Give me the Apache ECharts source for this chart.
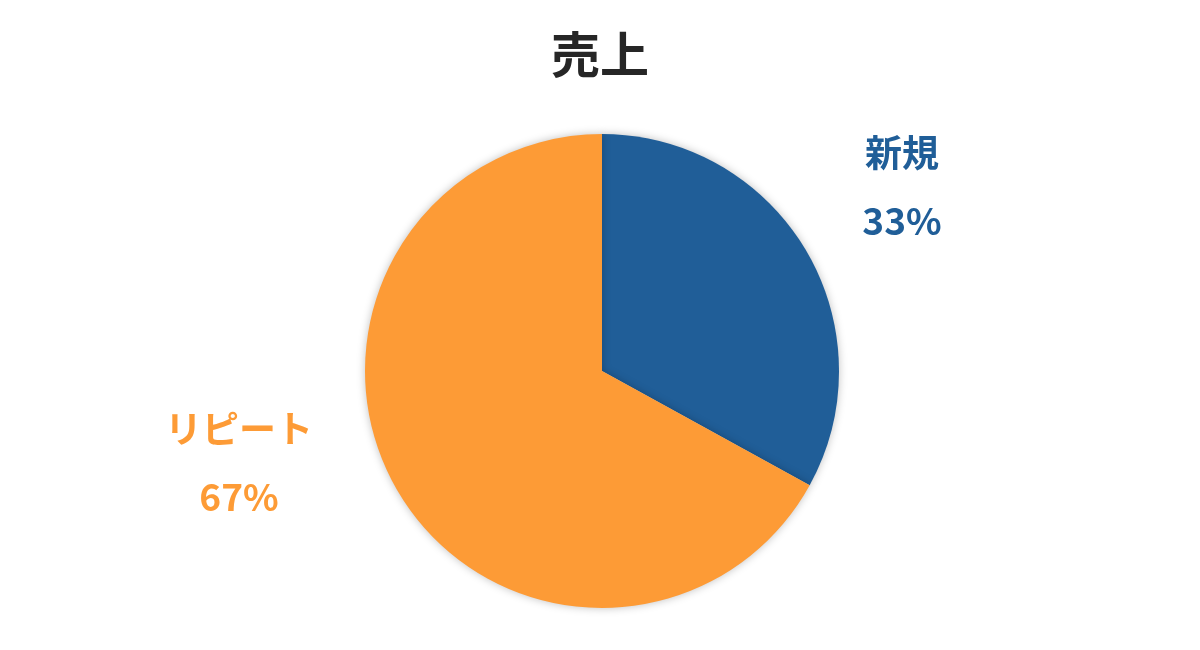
<!DOCTYPE html>
<html><head><meta charset="utf-8">
<script src="https://cdn.jsdelivr.net/npm/echarts@6/dist/echarts.min.js"></script>
<style>html,body{margin:0;padding:0;background:#fff}#c{width:1200px;height:650px}</style>
</head><body><div id="c"></div>
<script>
const title = '売上';
const categories = ['新規', 'リピート'];
const values = [33, 67];
const colors = ['#205E98', '#FD9B36'];
const labelPos = [[902, 187], [239, 463]];

const chart = echarts.init(document.getElementById('c'));
chart.setOption({
  backgroundColor: '#fff',
  title: {
    text: title, left: 'center', top: 25,
    textStyle: { fontFamily: 'Noto Sans CJK JP', fontSize: 49, fontWeight: 'bold', color: '#262626' }
  },
  series: [{
    type: 'pie',
    center: [602, 371],
    radius: 237,
    startAngle: 90,
    clockwise: true,
    silent: true,
    data: categories.map((n, i) => ({ name: n, value: values[i], itemStyle: { color: colors[i] }, label: { color: colors[i] } })),
    itemStyle: { shadowBlur: 8, shadowColor: 'rgba(0,0,0,0.25)', borderWidth: 0 },
    label: {
      show: true, position: 'outside', formatter: '{b}\n{c}%',
      fontFamily: 'Noto Sans CJK JP', fontSize: 37, fontWeight: 'bold', lineHeight: 68
    },
    labelLine: { show: false },
    labelLayout: function (p) {
      const pos = labelPos[p.dataIndex];
      return { x: pos[0], y: pos[1], align: 'center', verticalAlign: 'middle' };
    }
  }]
});
</script></body></html>
